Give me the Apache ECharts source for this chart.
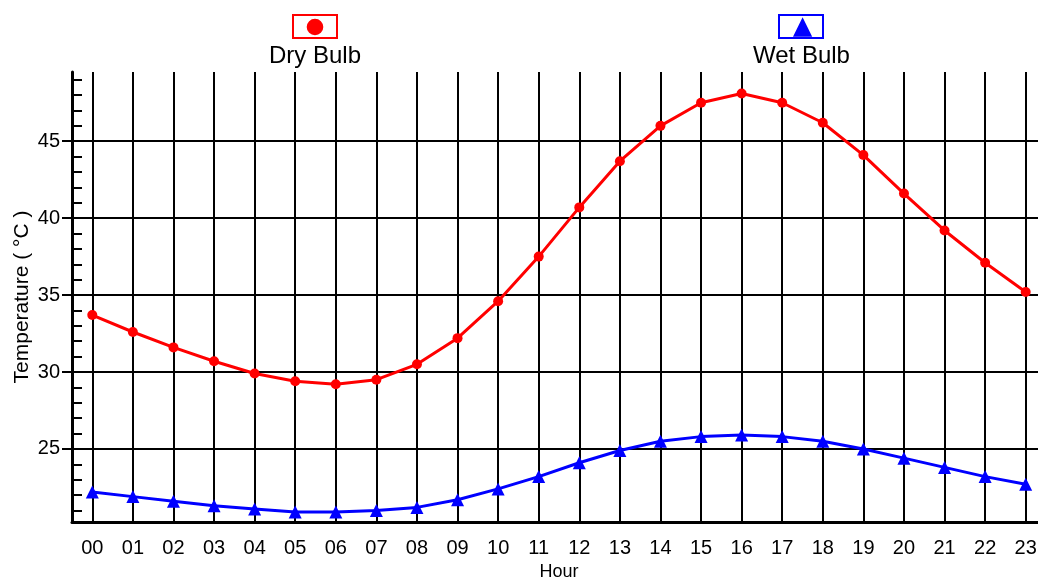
<!DOCTYPE html>
<html>
<head>
<meta charset="utf-8">
<script src="https://cdn.jsdelivr.net/npm/echarts@6/dist/echarts.min.js"></script>
<style>
  html, body { margin: 0; padding: 0; background: #fff; }
  #chart { width: 1038px; height: 579px; }
</style>
</head>
<body>
<div id="chart"></div>
<script>
// Hourly temperatures over one day
const hours = ['00','01','02','03','04','05','06','07','08','09','10','11',
               '12','13','14','15','16','17','18','19','20','21','22','23'];
const dryBulb = [33.7, 32.6, 31.6, 30.7, 29.9, 29.4, 29.2, 29.5, 30.5, 32.2, 34.6, 37.5,
                 40.7, 43.7, 46.0, 47.5, 48.1, 47.5, 46.2, 44.1, 41.6, 39.2, 37.1, 35.2];
const wetBulb = [22.2, 21.9, 21.6, 21.3, 21.1, 20.9, 20.9, 21.0, 21.2, 21.7, 22.4, 23.2,
                 24.1, 24.9, 25.5, 25.8, 25.9, 25.8, 25.5, 25.0, 24.4, 23.8, 23.2, 22.7];
const yMajorTicks = [25, 30, 35, 40, 45];
const yRange = [20.25, 49.5];

// minor ticks on every whole degree between the labelled ones
const yMinorTicks = [];
for (let v = Math.ceil(yRange[0]); v <= Math.floor(yRange[1]); v++) {
  if (v % 5 !== 0) yMinorTicks.push(v);
}

const FONT = 'Liberation Sans, Arial, sans-serif';
const boxFrame = 'M0 0H46V25H0Z M2 2V23H44V2Z ';
const dryIcon = 'path://' + boxFrame + 'M14.7 13A8.3 8.3 0 1 0 31.3 13A8.3 8.3 0 1 0 14.7 13Z';
const wetIcon = 'path://' + boxFrame + 'M24.6 3.3L34.2 22.7L15 22.7Z';

const chart = echarts.init(document.getElementById('chart'), null, { renderer: 'canvas' });

// plot area runs past the right edge so the last hour sits half a band inside it
const grid = { left: 72, top: 72, height: 450, width: 974,
               containLabel: false, outerBoundsMode: 'none' };

chart.setOption({
  animation: false,
  backgroundColor: '#fff',
  title: [
    { text: 'Dry Bulb', left: 269, top: 44, padding: 0,
      textStyle: { fontFamily: FONT, fontSize: 24, fontWeight: 'normal', color: '#000' } },
    { text: 'Wet Bulb', left: 753, top: 44, padding: 0,
      textStyle: { fontFamily: FONT, fontSize: 24, fontWeight: 'normal', color: '#000' } }
  ],
  legend: [
    { data: [{ name: 'Dry Bulb', icon: dryIcon }], left: 292, top: 14, padding: 0,
      itemWidth: 46, itemHeight: 25, formatter: () => '', selectedMode: false,
      itemStyle: { borderWidth: 0 } },
    { data: [{ name: 'Wet Bulb', icon: wetIcon }], left: 778, top: 14, padding: 0,
      itemWidth: 46, itemHeight: 25, formatter: () => '', selectedMode: false,
      itemStyle: { borderWidth: 0 } }
  ],
  grid: grid,
  xAxis: {
    type: 'category',
    data: hours,
    boundaryGap: true,
    name: 'Hour',
    nameLocation: 'middle',
    nameGap: 41,
    nameMoveOverlap: false,
    nameTextStyle: { fontFamily: FONT, fontSize: 18, color: '#000' },
    axisLine: { lineStyle: { color: '#000', width: 3 } },
    axisTick: { alignWithLabel: true, length: 10, lineStyle: { color: '#000', width: 2 } },
    axisLabel: { fontFamily: FONT, fontSize: 20, color: '#000', margin: 16, interval: 0 },
    splitLine: { show: true, alignWithLabel: true, lineStyle: { color: '#000', width: 2 } }
  },
  yAxis: [
    {
      type: 'value',
      min: yRange[0],
      max: yRange[1],
      name: 'Temperature ( °C )',
      nameLocation: 'middle',
      nameGap: 39,
      nameRotate: 90,
      nameMoveOverlap: false,
      nameTextStyle: { fontFamily: FONT, fontSize: 21, color: '#000' },
      axisLine: { show: true, lineStyle: { color: '#000', width: 3 } },
      axisTick: { show: true, length: 10, customValues: yMajorTicks,
                  lineStyle: { color: '#000', width: 2 } },
      axisLabel: { fontFamily: FONT, fontSize: 20, color: '#000', margin: 12,
                   customValues: yMajorTicks },
      splitLine: { show: true, lineStyle: { color: '#000', width: 2 } }
    },
    {
      type: 'value',
      min: yRange[0],
      max: yRange[1],
      position: 'left',
      axisLine: { show: false },
      axisTick: { show: true, inside: true, length: 10, customValues: yMinorTicks,
                  lineStyle: { color: '#000', width: 2 } },
      axisLabel: { show: false },
      splitLine: { show: false }
    }
  ],
  series: [
    {
      name: 'Dry Bulb',
      type: 'line',
      data: dryBulb,
      symbol: 'circle',
      symbolSize: 10,
      itemStyle: { color: '#ff0000', borderWidth: 0 },
      lineStyle: { color: '#ff0000', width: 3 },
      z: 3
    },
    {
      name: 'Wet Bulb',
      type: 'line',
      data: wetBulb,
      symbol: 'triangle',
      symbolSize: 13,
      itemStyle: { color: '#0000ff', borderWidth: 0 },
      lineStyle: { color: '#0000ff', width: 3 },
      z: 3
    }
  ]
});
</script>
</body>
</html>
